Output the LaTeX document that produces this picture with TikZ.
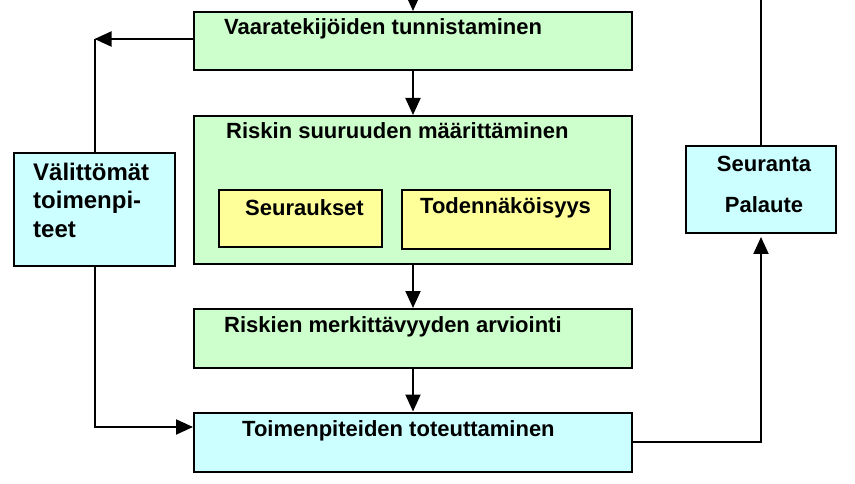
\documentclass[tikz,border=0pt]{standalone}
\usepackage{fontspec}
\setmainfont{Liberation Sans}
\usetikzlibrary{arrows.meta}
\usepackage{xcolor}
\definecolor{verde}{HTML}{CCFFCC}
\definecolor{amarelo}{HTML}{FFFF99}
\definecolor{ciano}{HTML}{CCFFFF}

\begin{document}
\begin{tikzpicture}[x=1pt, y=-1pt,
    >={Triangle[length=17pt, width=15pt]},
    caixa/.style={draw, line width=2pt, inner sep=0pt},
    linha/.style={line width=2pt},
    texto/.style={anchor=base west, inner sep=0pt, font=\fontsize{22}{26}\selectfont\bfseries}]
    \useasboundingbox (0,0) rectangle (855,484);

    % Caixas
    \node[caixa, fill=verde, minimum width=438pt, minimum height=58pt] (tunn) at (413,41) {};
    \node[caixa, fill=verde, minimum width=438pt, minimum height=148pt] (suur) at (413,190) {};
    \node[caixa, fill=amarelo, minimum width=163pt, minimum height=57pt] (seuraus) at (300.5,218.5) {};
    \node[caixa, fill=amarelo, minimum width=208pt, minimum height=59pt] (todnak) at (506,219.5) {};
    \node[caixa, fill=verde, minimum width=438pt, minimum height=59pt] (merk) at (413,338.5) {};
    \node[caixa, fill=ciano, minimum width=438pt, minimum height=59pt] (toim) at (413,442) {};
    \node[caixa, fill=ciano, minimum width=161pt, minimum height=113pt] (valit) at (94.5,209.5) {};
    \node[caixa, fill=ciano, minimum width=150pt, minimum height=87pt] (seur) at (761,189.5) {};

    % Textos
    \node[texto] (tunnT) at (224,35) {Vaaratekijöiden tunnistaminen};
    \node[texto] (suurT) at (226,139) {Riskin suuruuden määrittäminen};
    \node[texto] (seurausT) at (245,215) {Seuraukset};
    \node[texto] (todnakT) at (420,214) {Todennäköisyys};
    \node[texto] (merkT) at (224,332) {Riskien merkittävyyden arviointi};
    \node[texto] (toimT) at (242,436) {Toimenpiteiden toteuttaminen};
    \node[texto, align=left, font=\fontsize{24}{28.5}\selectfont\bfseries] (valitT) at (33,237)
        {Välittömät\\toimenpi-\\teet};
    \node[texto, anchor=base, align=center, font=\fontsize{22}{41.7}\selectfont\bfseries] (seurT) at (764,212.7)
        {Seuranta\\Palaute};

    % Setas
    \coordinate (topo) at (413,0);
    \coordinate (canto) at (94.5,39);
    \coordinate (fim) at (761,0);
    \draw[linha, ->] (topo) -- (tunn.north);
    \draw[linha, ->] (tunn.south) -- (suur.north);
    \draw[linha, ->] (suur.south) -- (merk.north);
    \draw[linha, ->] (merk.south) -- (toim.north);
    \draw[linha, ->] ([yshift=2pt]tunn.west) -- (canto);
    \draw[linha] (canto) -- (valit.north);
    \draw[linha, ->] (valit.south) |- ([yshift=15pt]toim.west);
    \draw[linha, ->, shorten >=3pt] (toim.east) -| (seur.south);
    \draw[linha] (seur.north) -- (fim);
\end{tikzpicture}
\end{document}
